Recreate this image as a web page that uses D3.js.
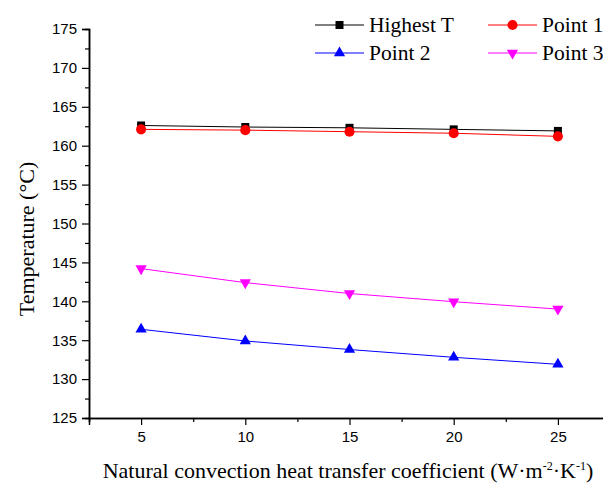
<!DOCTYPE html>
<html><head><meta charset="utf-8">
<script src="https://cdn.jsdelivr.net/npm/d3@7"></script>
<style>body{margin:0;background:#fff}svg{display:block}</style>
</head><body>
<svg id="c" width="603" height="483"></svg>
<script>
const xValues = [5, 10, 15, 20, 25];
const highestT = [162.6, 162.4, 162.3, 162.1, 161.9];
const point1 = [162.1, 162.0, 161.8, 161.6, 161.2];
const point2 = [136.4, 134.9, 133.8, 132.8, 131.9];
const point3 = [144.2, 142.4, 141.0, 139.95, 139.0];
const seriesNames = ["Highest T", "Point 1", "Point 2", "Point 3"];
const xTicks = [5, 10, 15, 20, 25];
const yTicks = [125, 130, 135, 140, 145, 150, 155, 160, 165, 170, 175];

const svg = d3.select("#c");
const x = d3.scaleLinear().domain([2.5, 27.5]).range([89, 610]);
const y = d3.scaleLinear().domain([125, 175]).range([418, 29]);

const series = [
  {name: seriesNames[0], vals: highestT, color: "#000000", sym: d3.symbolSquare, size: 64, rot: 0},
  {name: seriesNames[1], vals: point1, color: "#ff0000", sym: d3.symbolCircle, size: 80, rot: 0},
  {name: seriesNames[2], vals: point2, color: "#0000ff", sym: d3.symbolTriangle, size: 55, rot: 0},
  {name: seriesNames[3], vals: point3, color: "#ff00ff", sym: d3.symbolTriangle, size: 55, rot: 180}
];

// axes
const xMinor = d3.range(2.5, 27.6, 5);
const yMinor = d3.range(127.5, 175, 5);
const gx = svg.append("g").attr("transform", "translate(0,418)");
gx.call(d3.axisBottom(x).tickValues(xTicks).tickSize(7).tickPadding(6).tickFormat(d3.format("d")));
gx.append("g").call(d3.axisBottom(x).tickValues(xMinor).tickSize(4).tickFormat(""));
const gy = svg.append("g").attr("transform", "translate(89,0)");
gy.call(d3.axisLeft(y).tickValues(yTicks).tickSize(7).tickPadding(5).tickFormat(d3.format("d")));
gy.append("g").call(d3.axisLeft(y).tickValues(yMinor).tickSize(4).tickFormat(""));
svg.selectAll(".domain").attr("stroke", "#000").attr("stroke-width", 1.5);
svg.selectAll(".tick line").attr("stroke", "#000").attr("stroke-width", 1.2);
svg.selectAll(".tick text").attr("font-family", "Liberation Sans, Arial, sans-serif").attr("font-size", 15).attr("fill", "#000");

// lines & markers
const line = d3.line().x((d, i) => x(xValues[i])).y(d => y(d));
series.forEach(s => {
  svg.append("path").datum(s.vals).attr("d", line).attr("fill", "none").attr("stroke", s.color).attr("stroke-width", 1);
  svg.append("g").selectAll("path").data(s.vals).join("path")
    .attr("d", d3.symbol().type(s.sym).size(s.size))
    .attr("transform", (d, i) => `translate(${x(xValues[i])},${y(d)}) rotate(${s.rot})`)
    .attr("fill", s.color);
});

// titles
svg.append("text").attr("x", 348).attr("y", 478).attr("text-anchor", "middle")
  .attr("font-family", "Liberation Serif, Times New Roman, serif").attr("font-size", 22).attr("fill", "#000")
  .html('Natural convection heat transfer coefficient (W·m<tspan dy="-8" font-size="12">-2</tspan><tspan dy="8">·K</tspan><tspan dy="-8" font-size="12">-1</tspan><tspan dy="8">)</tspan>');
svg.append("text").attr("transform", "translate(34,239) rotate(-90)").attr("text-anchor", "middle")
  .attr("font-family", "Liberation Serif, Times New Roman, serif").attr("font-size", 22).attr("fill", "#000")
  .text("Temperature (°C)");

// legend
const legPos = [[315, 25], [488, 25], [315, 53], [488, 53]];
series.forEach((s, i) => {
  const [lx, ly] = legPos[i];
  const g = svg.append("g");
  g.append("line").attr("x1", lx).attr("x2", lx + 49).attr("y1", ly).attr("y2", ly).attr("stroke", s.color).attr("stroke-width", 1);
  g.append("path").attr("d", d3.symbol().type(s.sym).size(s.size)).attr("transform", `translate(${lx + 24.5},${ly}) rotate(${s.rot})`).attr("fill", s.color);
  g.append("text").attr("x", lx + 54).attr("y", ly + 7)
    .attr("font-family", "Liberation Serif, Times New Roman, serif").attr("font-size", 21.5).attr("fill", "#000").text(s.name);
});
</script>
</body></html>
